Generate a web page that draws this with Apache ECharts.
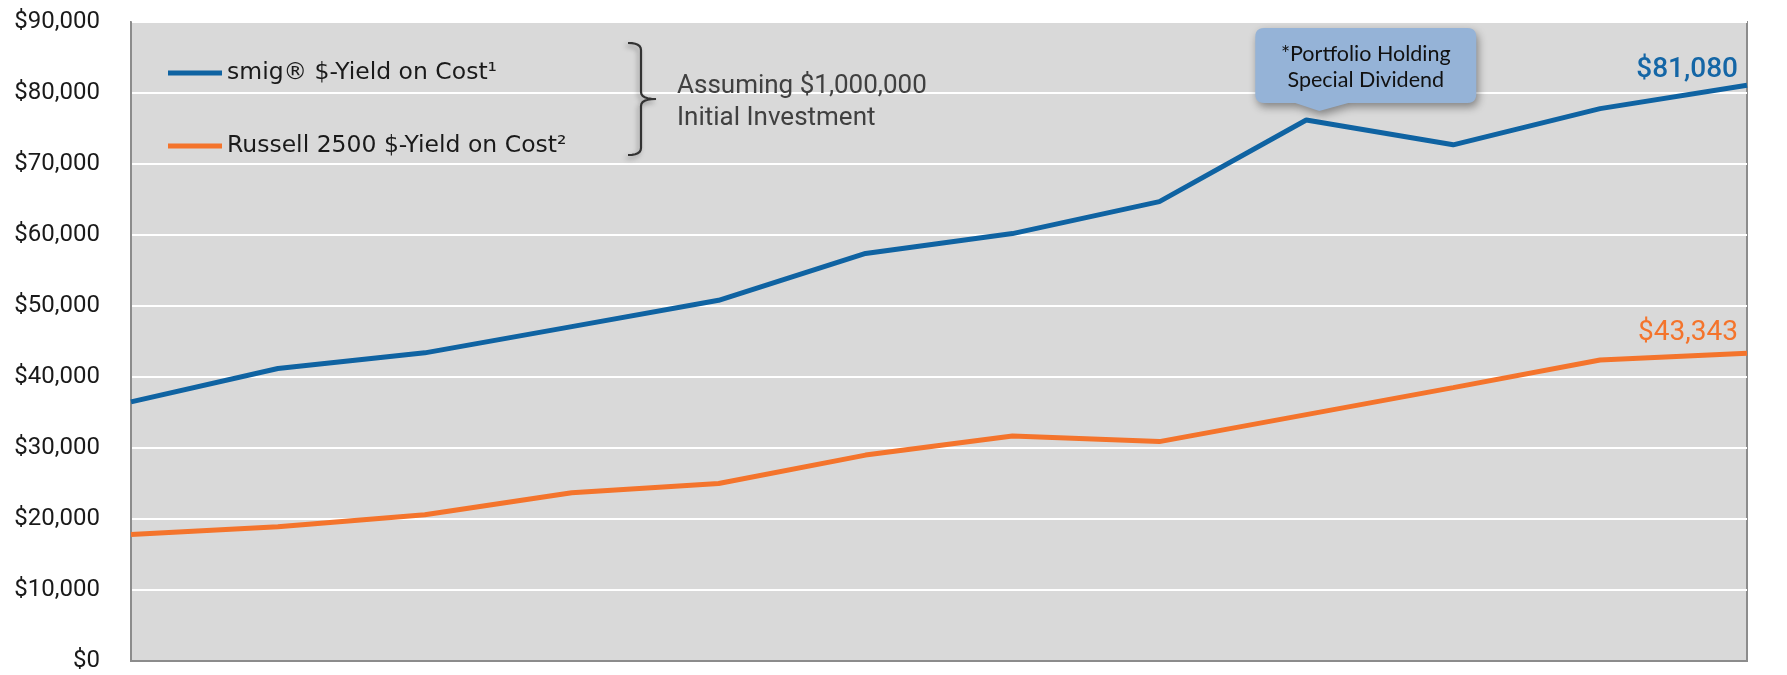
<!DOCTYPE html>
<html>
<head>
<meta charset="utf-8">
<script src="https://cdn.jsdelivr.net/npm/echarts@6/dist/echarts.min.js"></script>
<style>
html,body{margin:0;padding:0;background:#fff;}
#chart{width:1787px;height:675px;}
</style>
</head>
<body>
<div id="chart"></div>
<script>
// ---- data ----
const categories = ['Year 1','Year 2','Year 3','Year 4','Year 5','Year 6','Year 7','Year 8','Year 9','Year 10','Year 11','Year 12'];
const smigName = 'smig® $-Yield on Cost¹';
const russellName = 'Russell 2500 $-Yield on Cost²';
const smigValues = [36500, 41200, 43400, 47100, 50800, 57400, 60200, 64700, 76200, 72700, 77800, 81080];
const russellValues = [17800, 18900, 20600, 23700, 25000, 29000, 31700, 30900, 34700, 38500, 42400, 43343];
const yTicks = [0, 10000, 20000, 30000, 40000, 50000, 60000, 70000, 80000, 90000];
const noteLines = ['Assuming $1,000,000', 'Initial Investment'];
const calloutLines = ['*Portfolio Holding', 'Special Dividend'];
const calloutIndex = 8;

const BLUE = '#0F63A2';
const ORANGE = '#F4742C';
const FONT = 'Roboto, "DejaVu Sans", sans-serif';
const LEGEND_FONT = '"DejaVu Sans", Roboto, sans-serif';

function money(v){ return '$' + v.toLocaleString('en-US'); }

// sample quadratic bezier (for annotation shapes)
function quad(p0, c, p1, n){
  const pts = [];
  for (let i = 1; i <= n; i++){
    const t = i / n, u = 1 - t;
    pts.push([u*u*p0[0] + 2*u*t*c[0] + t*t*p1[0], u*u*p0[1] + 2*u*t*c[1] + t*t*p1[1]]);
  }
  return pts;
}

const chart = echarts.init(document.getElementById('chart'));
chart.setOption({
  animation: false,
  backgroundColor: '#ffffff',
  grid: {
    left: 131, right: 40, top: 22, bottom: 14,
    show: true, backgroundColor: '#D9D9D9', borderColor: '#8C8C8C', borderWidth: 2
  },
  legend: {
    orient: 'vertical', left: 168, top: 58, itemGap: 43, padding: 0,
    itemWidth: 54, itemHeight: 5, icon: 'rect',
    textStyle: { fontFamily: LEGEND_FONT, fontSize: 23.5, color: '#1a1a1a', lineHeight: 30 },
    data: [smigName, russellName]
  },
  xAxis: {
    type: 'category', data: categories, boundaryGap: false,
    axisLine: { show: true, lineStyle: { color: '#8C8C8C', width: 2 } },
    axisTick: { show: false }, axisLabel: { show: false }, splitLine: { show: false }
  },
  yAxis: {
    type: 'value', min: yTicks[0], max: yTicks[yTicks.length-1], interval: yTicks[1]-yTicks[0],
    axisLine: { show: true, lineStyle: { color: '#8C8C8C', width: 2 } },
    axisTick: { show: false },
    axisLabel: { formatter: money, fontFamily: FONT, fontSize: 24, color: '#1a1a1a', margin: 31 },
    splitLine: { show: true, lineStyle: { color: '#FFFFFF', width: 2 } }
  },
  series: [
    { name: smigName, type: 'line', data: smigValues, showSymbol: false, symbol: 'none',
      lineStyle: { color: BLUE, width: 5 }, itemStyle: { color: BLUE }, z: 3 },
    { name: russellName, type: 'line', data: russellValues, showSymbol: false, symbol: 'none',
      lineStyle: { color: ORANGE, width: 5 }, itemStyle: { color: ORANGE }, z: 3 }
  ]
});

// annotations positioned through the chart's own scales
const last = categories.length - 1;
const pBlueEnd = chart.convertToPixel({gridIndex:0}, [last, smigValues[last]]);
const pOrEnd = chart.convertToPixel({gridIndex:0}, [last, russellValues[last]]);
const pCall = chart.convertToPixel({gridIndex:0}, [calloutIndex, smigValues[calloutIndex]]);

const tipX = pCall[0] + 13, tipY = pCall[1] - 9;
const bx0 = tipX - 64, bx1 = tipX + 157, by0 = tipY - 83, by1 = tipY - 8;
const r = 9;
let callPts = [[bx0 + r, by0], [bx1 - r, by0]];
callPts = callPts.concat(quad([bx1 - r, by0], [bx1, by0], [bx1, by0 + r], 6));
callPts.push([bx1, by1 - r]);
callPts = callPts.concat(quad([bx1, by1 - r], [bx1, by1], [bx1 - r, by1], 6));
callPts.push([tipX + 29, by1], [tipX, tipY], [tipX - 24, by1], [bx0 + r, by1]);
callPts = callPts.concat(quad([bx0 + r, by1], [bx0, by1], [bx0, by1 - r], 6));
callPts.push([bx0, by0 + r]);
callPts = callPts.concat(quad([bx0, by0 + r], [bx0, by0], [bx0 + r, by0], 6));
const cx = (bx0 + bx1) / 2;

// brace ]-shape with middle tick
const bX = 641, bTop = 43, bMid = 99, bBot = 155;
let brace = [[628, bTop]];
brace = brace.concat(quad([628, bTop], [bX, bTop], [bX, bTop + 7], 6));
brace.push([bX, bMid - 7]);
brace = brace.concat(quad([bX, bMid - 7], [bX, bMid], [bX + 15, bMid], 6));
brace = brace.concat(quad([bX + 15, bMid], [bX, bMid], [bX, bMid + 7], 6));
brace.push([bX, bBot - 7]);
brace = brace.concat(quad([bX, bBot - 7], [bX, bBot], [628, bBot], 6));

chart.setOption({
  graphic: [
    { type: 'polyline', shape: { points: brace },
      style: { fill: null, stroke: '#333333', lineWidth: 2.2, shadowBlur: 5, shadowOffsetX: -2, shadowOffsetY: 3, shadowColor: 'rgba(0,0,0,0.35)' }, z: 10 },
    { type: 'text', left: 677, top: 73, style: { text: noteLines[0], font: '26px ' + FONT, fill: '#404040' }, z: 10 },
    { type: 'text', left: 677, top: 105, style: { text: noteLines[1], font: '26px ' + FONT, fill: '#404040' }, z: 10 },
    { type: 'polygon', shape: { points: callPts },
      style: { fill: '#95B3D7', stroke: null, shadowBlur: 8, shadowOffsetX: 2, shadowOffsetY: 4, shadowColor: 'rgba(0,0,0,0.4)' }, z: 10 },
    { type: 'text', x: cx, y: by0 + 26, style: { text: calloutLines[0], font: '21.5px Lato, "Open Sans", sans-serif', fill: '#111111', textAlign: 'center', textVerticalAlign: 'middle' }, z: 11 },
    { type: 'text', x: cx, y: by0 + 52, style: { text: calloutLines[1], font: '21.5px Lato, "Open Sans", sans-serif', fill: '#111111', textAlign: 'center', textVerticalAlign: 'middle' }, z: 11 },
    { type: 'text', x: pBlueEnd[0] - 9, y: pBlueEnd[1] - 15, style: { text: money(smigValues[last]), font: '500 28px ' + FONT, fill: '#1466A6', textAlign: 'right', textVerticalAlign: 'middle' }, z: 11 },
    { type: 'text', x: pOrEnd[0] - 9, y: pOrEnd[1] - 20, style: { text: money(russellValues[last]), font: '28px ' + FONT, fill: ORANGE, textAlign: 'right', textVerticalAlign: 'middle' }, z: 11 }
  ]
});
</script>
</body>
</html>
